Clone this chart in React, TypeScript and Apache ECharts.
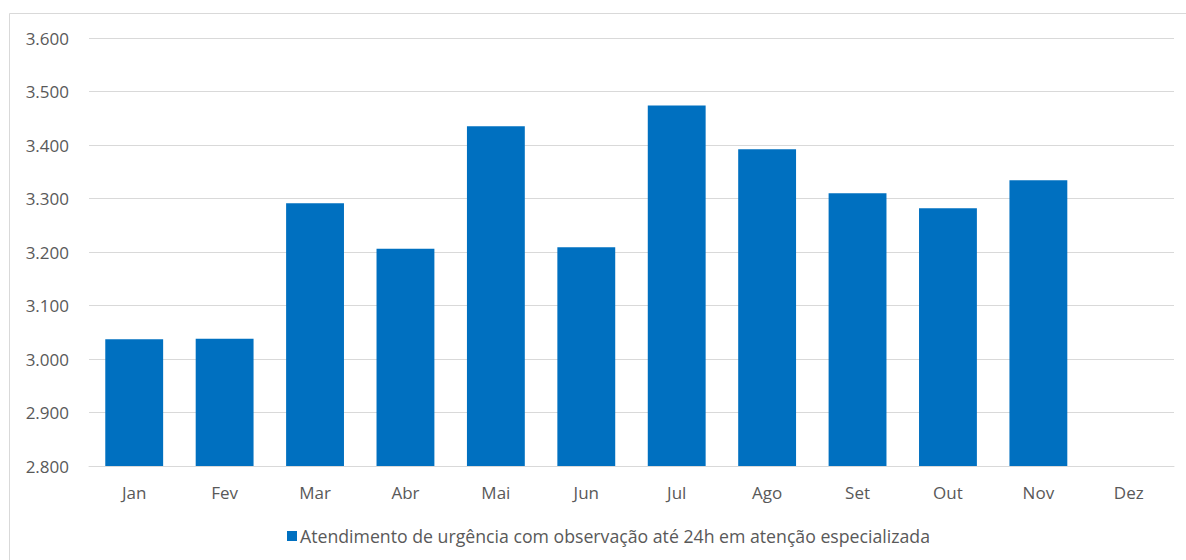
import React, { useEffect, useRef } from "react";
import * as echarts from "echarts";

const months = ["Jan", "Fev", "Mar", "Abr", "Mai", "Jun", "Jul", "Ago", "Set", "Out", "Nov", "Dez"];
const values: (number | null)[] = [3037, 3038, 3291, 3206, 3435, 3209, 3474, 3392, 3310, 3282, 3334, null];
const seriesName = "Atendimento de urgência com observação até 24h em atenção especializada";
const yMin = 2800;
const yMax = 3600;
const yStep = 100;

const FONT = "'Open Sans', sans-serif";
const TEXT = "#595959";
const GRID = "#d9d9d9";
const BAR = "#0070C0";

function fmt(v: number): string {
  const th = Math.floor(v / 1000);
  const rest = Math.round(v % 1000);
  return th + "." + String(rest).padStart(3, "0");
}

export default function App() {
  const ref = useRef<HTMLDivElement>(null);
  useEffect(() => {
    document.body.style.margin = "0";
    if (!ref.current) return;
    const chart = echarts.init(ref.current, null, { renderer: "svg" });
    chart.setOption({
      animation: false,
      backgroundColor: "#ffffff",
      textStyle: { fontFamily: FONT },
      graphic: [
        {
          type: "rect",
          shape: { x: 9.5, y: 13.5, width: 1200, height: 600 },
          style: { fill: "none", stroke: GRID, lineWidth: 1 },
          silent: true,
          z: -1,
        },
      ],
      grid: { left: 89, right: 12, top: 38, bottom: 94, containLabel: false },
      legend: {
        show: true,
        left: 287,
        top: 527,
        padding: 0,
        itemWidth: 10,
        itemHeight: 10,
        itemGap: 10,
        icon: "rect",
        textStyle: { color: TEXT, fontSize: 17.7, fontFamily: FONT, padding: [0, 0, 0, -2] },
        data: [seriesName],
      },
      xAxis: {
        type: "category",
        data: months,
        axisLine: { show: true, lineStyle: { color: GRID, width: 1 } },
        axisTick: { show: false },
        axisLabel: { color: TEXT, fontSize: 17, fontFamily: FONT, margin: 18 },
        splitLine: { show: false },
      },
      yAxis: {
        type: "value",
        min: yMin,
        max: yMax,
        interval: yStep,
        axisLine: { show: false },
        axisTick: { show: false },
        axisLabel: { color: TEXT, fontSize: 17, fontFamily: FONT, margin: 20, formatter: (v: number) => fmt(v) },
        splitLine: { show: true, lineStyle: { color: GRID, width: 1 } },
      },
      series: [
        {
          name: seriesName,
          type: "bar",
          data: values,
          barCategoryGap: "36%",
          itemStyle: { color: BAR },
        },
      ],
    });
    return () => chart.dispose();
  }, []);
  return <div ref={ref} style={{ width: 1186, height: 560 }} />;
}
